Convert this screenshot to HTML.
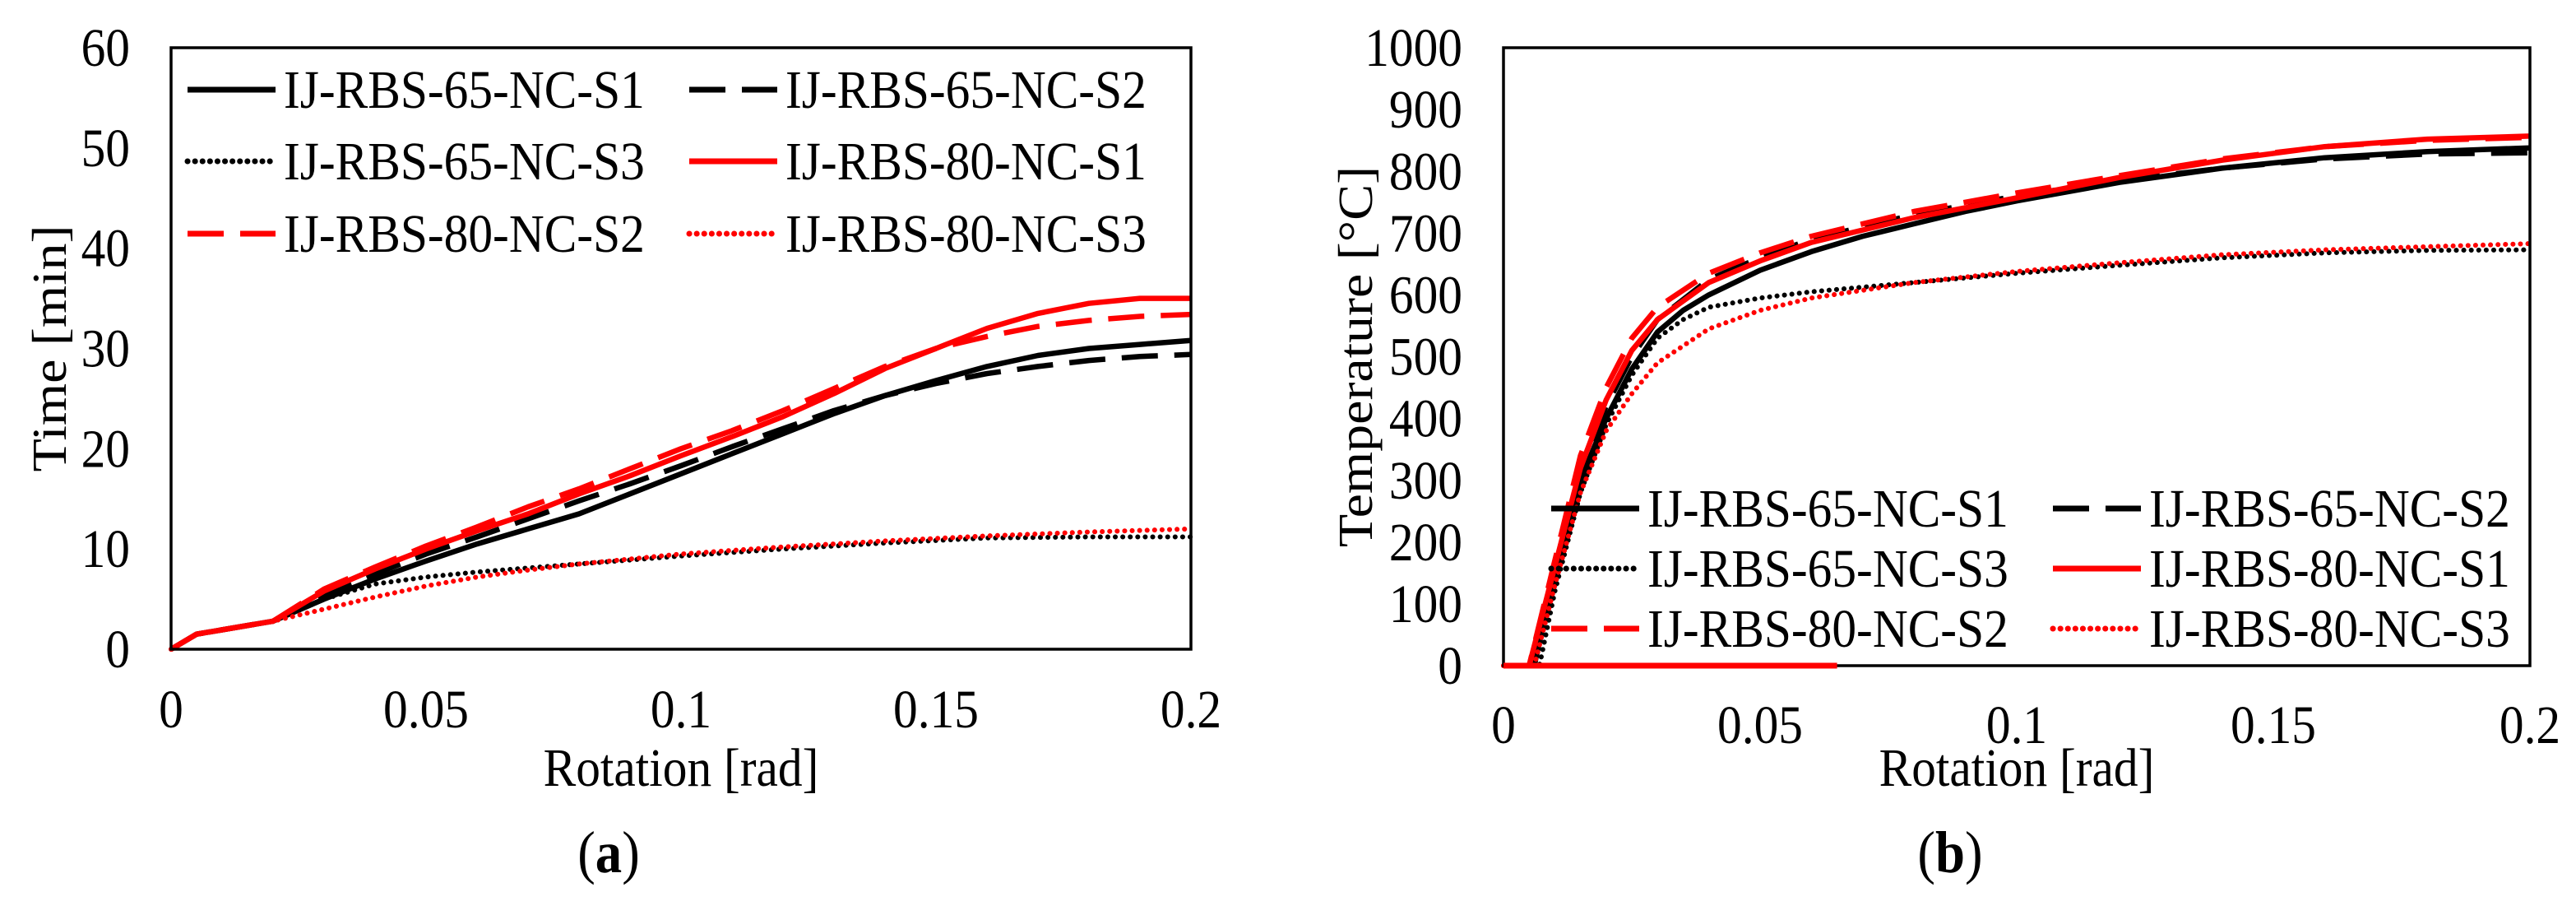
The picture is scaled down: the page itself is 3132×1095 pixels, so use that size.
<!DOCTYPE html>
<html><head><meta charset="utf-8"><style>
html,body{margin:0;padding:0;background:#fff;}
svg{display:block;font-family:"Liberation Serif",serif;}
</style></head><body>
<svg id="fig" width="3132" height="1095" viewBox="0 0 3132 1095" xmlns="http://www.w3.org/2000/svg"></svg>
<script>
const NS="http://www.w3.org/2000/svg";
const svg=document.getElementById('fig');
// ---- data: chart (a) time vs rotation ----
const aX65S1=[0,0.005,0.02,0.03,0.04,0.05,0.06,0.07,0.08,0.09,0.1,0.11,0.12,0.13,0.14,0.15,0.16,0.17,0.18,0.19,0.2];
const aY65S1=[0,1.5,2.8,5,7,8.8,10.5,12,13.5,15.5,17.5,19.5,21.5,23.5,25.3,26.8,28.2,29.3,30,30.4,30.8];
const aX65S2=[0,0.005,0.02,0.03,0.04,0.05,0.06,0.07,0.08,0.09,0.1,0.11,0.12,0.13,0.14,0.15,0.16,0.17,0.18,0.19,0.2];
const aY65S2=[0,1.5,2.8,5.5,7.5,9.5,11.2,13,14.8,16.5,18.3,20.2,22,23.8,25.3,26.5,27.5,28.2,28.8,29.2,29.4];
const aX80S1=[0,0.005,0.02,0.03,0.04,0.05,0.06,0.07,0.08,0.09,0.1,0.11,0.12,0.13,0.14,0.15,0.16,0.17,0.18,0.19,0.2];
const aY80S1=[0,1.5,2.8,5.8,8,10,11.8,13.5,15.5,17.3,19.3,21.2,23.2,25.5,28,30,32,33.5,34.5,35,35];
const aX80S2=[0,0.005,0.02,0.03,0.04,0.05,0.06,0.07,0.08,0.09,0.1,0.11,0.12,0.13,0.14,0.15,0.16,0.17,0.18,0.19,0.2];
const aY80S2=[0,1.5,2.8,6,8.2,10.3,12.2,14.2,16,18,20,21.8,23.8,26,28.2,30,31.2,32.2,32.8,33.2,33.4];
const aX65S3=[0,0.005,0.02,0.03,0.04,0.05,0.06,0.07,0.08,0.09,0.1,0.12,0.14,0.16,0.18,0.2];
const aY65S3=[0,1.5,2.8,5,6.5,7.2,7.7,8.1,8.5,8.9,9.3,10,10.6,11.1,11.2,11.2];
const aX80S3=[0,0.005,0.02,0.03,0.04,0.05,0.06,0.07,0.08,0.09,0.1,0.12,0.14,0.16,0.18,0.2];
const aY80S3=[0,1.5,2.8,4,5.2,6.3,7.2,7.9,8.5,9,9.5,10.2,10.8,11.3,11.7,12];
const aYTicks=[0,10,20,30,40,50,60];
const xTicks=[0,0.05,0.1,0.15,0.2];
const xTickLabels=["0","0.05","0.1","0.15","0.2"];
// ---- data: chart (b) temperature vs rotation ----
const bX65S1=[0,0.006,0.01,0.015,0.02,0.025,0.03,0.035,0.04,0.05,0.06,0.07,0.08,0.09,0.1,0.12,0.14,0.16,0.18,0.2];
const bY65S1=[0,0,150,300,400,480,540,575,600,640,670,695,715,735,752,782,805,822,832,838];
const bX65S2=[0,0.006,0.01,0.015,0.02,0.025,0.03,0.04,0.05,0.06,0.08,0.1,0.12,0.14,0.16,0.18,0.2];
const bY65S2=[0,0,155,310,420,500,560,625,660,690,730,760,785,805,820,828,830];
const bX80S1=[0,0.005,0.01,0.015,0.02,0.025,0.03,0.04,0.05,0.06,0.08,0.1,0.12,0.14,0.16,0.18,0.2];
const bY80S1=[0,0,160,320,430,510,560,620,655,685,725,757,790,818,840,852,857];
const bX80S1base=[0,0.065];
const bY80S1base=[0,0];
const bX80S2=[0,0.005,0.01,0.015,0.02,0.025,0.03,0.04,0.05,0.06,0.08,0.1,0.12,0.14,0.16,0.18,0.2];
const bY80S2=[0,0,170,340,450,530,580,635,668,695,735,765,793,820,840,850,855];
const bX65S3=[0,0.007,0.01,0.015,0.02,0.025,0.03,0.035,0.04,0.05,0.06,0.08,0.1,0.12,0.14,0.16,0.18,0.2];
const bY65S3=[0,0,120,280,390,470,530,560,580,595,605,620,635,648,660,668,672,673];
const bX80S3=[0,0.006,0.01,0.015,0.02,0.025,0.03,0.04,0.05,0.06,0.08,0.1,0.12,0.14,0.16,0.18,0.2];
const bY80S3=[0,0,130,280,380,440,490,545,575,595,620,638,652,665,673,678,683];
const bYTicks=[0,100,200,300,400,500,600,700,800,900,1000];
const names=["IJ-RBS-65-NC-S1","IJ-RBS-65-NC-S2","IJ-RBS-65-NC-S3","IJ-RBS-80-NC-S1","IJ-RBS-80-NC-S2","IJ-RBS-80-NC-S3"];

const styles={
 solid:{dash:null,cap:"butt"},
 dash:{dash:"44 20",cap:"butt"},
 dot:{dash:"0.1 9",cap:"round"}
};
function mk(tag,attrs,parent){const e=document.createElementNS(NS,tag);for(const k in attrs)e.setAttribute(k,attrs[k]);(parent||svg).appendChild(e);return e;}
function txt(s,x,y,size,anchor,parent,extra){
 const t=mk('text',Object.assign({x:0,y:0,'font-size':size*1.1,'text-anchor':anchor||'middle','dominant-baseline':'central',fill:'#000',transform:'translate('+x+','+y+') scale(0.9,1)'},extra||{}),parent);
 t.textContent=s;return t;}

function chart(cfg){
 const g=mk('g',{});
 
 
 const sx=v=>cfg.x0+(v-0)/(0.2)*(cfg.x1-cfg.x0);
 const sy=v=>cfg.y0-(v/cfg.ymax)*(cfg.y0-cfg.y1);
 cfg.series.forEach(s=>{
  const d=s.xs.map((x,i)=>(i?'L':'M')+sx(x).toFixed(1)+' '+sy(s.ys[i]).toFixed(1)).join(' ');
  const st=styles[s.style];
  const p=mk('path',{d:d,fill:'none',stroke:s.color,'stroke-width':s.style==='dot'?6:6.5,'stroke-linejoin':'round','stroke-linecap':st.cap},g);
  if(st.dash)p.setAttribute('stroke-dasharray',st.dash);
  
  
 });
 const fr=mk('rect',{x:cfg.x0,y:cfg.y1,width:cfg.x1-cfg.x0,height:cfg.y0-cfg.y1,fill:'none',stroke:'#000','stroke-width':3.5},g);
 
 
 cfg.yticks.forEach(v=>{
  const t=txt(String(v),cfg.ylabX,sy(v),60,'end',g);
  
  
 });
 xTicks.forEach((v,i)=>{
  const t=txt(xTickLabels[i],sx(v),cfg.xlabY,60,'middle',g);
  
  
 });
 const xt=txt('Rotation [rad]',(cfg.x0+cfg.x1)/2,933,60,'middle',g);
 
 
 const yt=mk('text',{x:0,y:0,'font-size':66,'text-anchor':'middle','dominant-baseline':'central',transform:'translate('+cfg.ytitleX+','+((cfg.y0+cfg.y1)/2)+') rotate(-90) scale(1,0.9)'},g);
 yt.textContent=cfg.ytitle;
 
 
 const lab=mk('text',{x:0,y:0,'font-size':72,'text-anchor':'middle','dominant-baseline':'central',transform:'translate('+cfg.labX+',1036) scale(0.9,1)'},g);
 lab.innerHTML='(<tspan font-weight="bold">'+cfg.lab+'</tspan>)';
 
 
 const lg=mk('g',{},g);
 
 
 [0,1,2,3,4,5].forEach(i=>{
  const s=cfg.series[i];
  const col=i%2, row=Math.floor(i/2);
  const lx=cfg.legX[col], ly=cfg.legY[row];
  const st=styles[s.style];
  const ln=mk('line',{x1:lx,y1:ly,x2:lx+107,y2:ly,stroke:s.color,'stroke-width':7,'stroke-linecap':st.cap},lg);
  if(st.dash)ln.setAttribute('stroke-dasharray',st.dash);
  
  
  const t=txt(names[i],lx+117,ly,60,'start',lg);
  
  
 });
}

chart({id:'chart-a-time',x0:208,x1:1448,y0:789,y1:58,ymax:60,yticks:aYTicks,ylabX:158,xlabY:862,ytitle:'Time [min]',ytitleX:60,labX:740,lab:'a',
 legX:[228,838],legY:[109,196,284],
 series:[
  {name:'IJ-RBS-65-NC-S1',xs:aX65S1,ys:aY65S1,color:'#000',style:'solid'},
  {name:'IJ-RBS-65-NC-S2',xs:aX65S2,ys:aY65S2,color:'#000',style:'dash'},
  {name:'IJ-RBS-65-NC-S3',xs:aX65S3,ys:aY65S3,color:'#000',style:'dot'},
  {name:'IJ-RBS-80-NC-S1',xs:aX80S1,ys:aY80S1,color:'#ff0000',style:'solid'},
  {name:'IJ-RBS-80-NC-S2',xs:aX80S2,ys:aY80S2,color:'#ff0000',style:'dash'},
  {name:'IJ-RBS-80-NC-S3',xs:aX80S3,ys:aY80S3,color:'#ff0000',style:'dot'}
 ]});
chart({id:'chart-b-temperature',x0:1828,x1:3076,y0:809,y1:58,ymax:1000,yticks:bYTicks,ylabX:1778,xlabY:881,ytitle:'Temperature [°C]',ytitleX:1648,labX:2371,lab:'b',
 legX:[1886,2496],legY:[618,691,764],
 series:[
  {name:'IJ-RBS-65-NC-S1',xs:bX65S1,ys:bY65S1,color:'#000',style:'solid'},
  {name:'IJ-RBS-65-NC-S2',xs:bX65S2,ys:bY65S2,color:'#000',style:'dash'},
  {name:'IJ-RBS-65-NC-S3',xs:bX65S3,ys:bY65S3,color:'#000',style:'dot'},
  {name:'IJ-RBS-80-NC-S1',xs:bX80S1,ys:bY80S1,color:'#ff0000',style:'solid'},
  {name:'IJ-RBS-80-NC-S2',xs:bX80S2,ys:bY80S2,color:'#ff0000',style:'dash'},
  {name:'IJ-RBS-80-NC-S3',xs:bX80S3,ys:bY80S3,color:'#ff0000',style:'dot'}
 ]});
(function(){
 const sx=v=>1828+v/0.2*(3076-1828), sy=v=>809-v/1000*(809-58);
 const p=mk('path',{d:'M'+sx(bX80S1base[0])+' '+sy(bY80S1base[0])+' L'+sx(bX80S1base[1])+' '+sy(bY80S1base[1]),stroke:'#ff0000','stroke-width':7,fill:'none'});
 
 
})();
</script>
</body></html>
